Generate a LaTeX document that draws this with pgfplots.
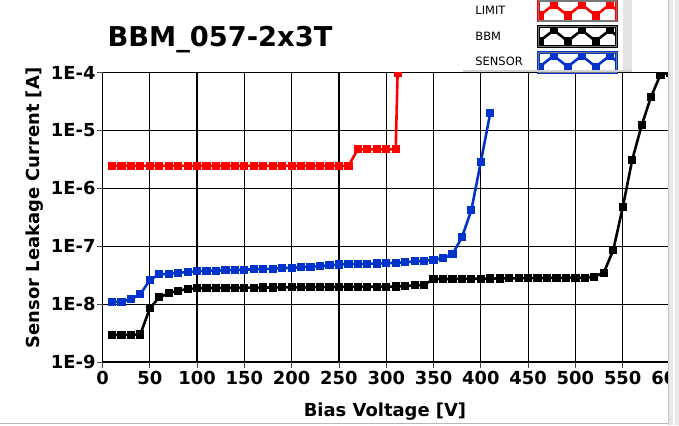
\documentclass[border=0pt]{standalone}
\usepackage{pgfplots}
\pgfplotsset{compat=1.18}
\usepackage{fontspec}
\setmainfont{DejaVu Sans}
\definecolor{limitred}{RGB}{255,0,0}
\definecolor{sensorblue}{RGB}{0,51,204}
\definecolor{framegray}{RGB}{120,120,120}
\begin{document}
\begin{tikzpicture}[x=1bp,y=1bp]
\useasboundingbox (0,0) rectangle (679,425);
\fill[white] (0,0) rectangle (679,425);
\begin{axis}[
  at={(102.5bp,63bp)}, anchor=south west, scale only axis,
  width=567.5bp, height=289.3bp,
  xmin=0, xmax=600, ymin=1e-9, ymax=1e-4, ymode=log,
  xtick={0,50,100,150,200,250,300,350,400,450,500,550,600},
  xticklabels={0,50,100,150,200,250,300,350,400,450,500,550,600},
  ytick={1e-9,1e-8,1e-7,1e-6,1e-5,1e-4},
  yticklabels={1E-9,1E-8,1E-7,1E-6,1E-5,1E-4},
  yminorticks=false, xminorticks=false,
  grid=major, major grid style={black, line width=1.2bp},
  axis line style={draw=none},
  tick align=outside, major tick length=5.5bp, tick pos=left,
  tick style={black!70, line width=0.8bp},
  ticklabel style={font=\fontsize{18}{21}\selectfont\bfseries},
  yticklabel style={xshift=2bp},
  clip marker paths=true,
  every axis plot/.append style={line width=2.6bp, mark=square*, mark size=2.8bp, mark options={solid}},
  legend plot pos=right,
  legend cell align=left,
  legend style={at={(1,1)}, anchor=south east, xshift=-52bp, yshift=-0.8bp,
    draw=none, fill=none, inner sep=0pt, outer sep=0pt, row sep=3bp,
    nodes={font=\fontsize{11.5}{13}\selectfont, inner sep=0pt, text width=62bp, align=left}},
  legend image code/.code={
      \fill[white] (0bp,-10bp) rectangle (78bp,10bp);
      \begin{scope}
        \clip (0bp,-10bp) rectangle (78bp,10bp);
        \draw[mark indices={1,2,3,4,5,6}] plot coordinates {(1bp,-4.5bp) (15bp,6.5bp) (29bp,-4.5bp) (43bp,6.5bp) (57bp,-4.5bp) (71bp,6.5bp) (85bp,-4.5bp)};
      \end{scope}
      \draw[framegray, line width=1.2bp, solid] (0bp,-10bp) rectangle (78bp,10bp);
  },
]
\addplot[color=limitred] table {
x y
10 2.45e-6
20 2.45e-6
30 2.45e-6
40 2.45e-6
50 2.45e-6
60 2.45e-6
70 2.45e-6
80 2.45e-6
90 2.45e-6
100 2.45e-6
110 2.45e-6
120 2.45e-6
130 2.45e-6
140 2.45e-6
150 2.45e-6
160 2.45e-6
170 2.45e-6
180 2.45e-6
190 2.45e-6
200 2.45e-6
210 2.45e-6
220 2.45e-6
230 2.45e-6
240 2.45e-6
250 2.45e-6
260 2.45e-6
270 4.75e-6
280 4.75e-6
290 4.75e-6
300 4.75e-6
310 4.75e-6
312 1.0e-4
};
\addlegendentry{LIMIT}
\addplot[color=black] table {
x y
10 2.93e-9
20 2.93e-9
30 2.95e-9
40 3.0e-9
50 8.47e-9
60 1.31e-8
70 1.54e-8
80 1.71e-8
90 1.83e-8
100 1.88e-8
110 1.9e-8
120 1.9e-8
130 1.92e-8
140 1.92e-8
150 1.93e-8
160 1.93e-8
170 1.94e-8
180 1.94e-8
190 1.95e-8
200 1.95e-8
210 1.96e-8
220 1.96e-8
230 1.97e-8
240 1.98e-8
250 1.98e-8
260 1.99e-8
270 1.99e-8
280 2.0e-8
290 2.0e-8
300 2.0e-8
310 2.02e-8
320 2.05e-8
330 2.12e-8
340 2.15e-8
350 2.72e-8
360 2.72e-8
370 2.73e-8
380 2.73e-8
390 2.74e-8
400 2.75e-8
410 2.78e-8
420 2.78e-8
430 2.8e-8
440 2.8e-8
450 2.82e-8
460 2.82e-8
470 2.84e-8
480 2.85e-8
490 2.85e-8
500 2.86e-8
510 2.87e-8
520 2.98e-8
530 3.5e-8
540 8.6e-8
550 4.72e-7
560 3.1e-6
570 1.23e-5
580 3.85e-5
590 9.3e-5
600 1.0e-4
};
\addlegendentry{BBM}
\addplot[color=sensorblue] table {
x y
10 1.1e-8
20 1.1e-8
30 1.22e-8
40 1.48e-8
50 2.61e-8
60 3.27e-8
70 3.35e-8
80 3.49e-8
90 3.59e-8
100 3.69e-8
110 3.75e-8
120 3.8e-8
130 3.85e-8
140 3.9e-8
150 3.95e-8
160 4.0e-8
170 4.05e-8
180 4.1e-8
190 4.2e-8
200 4.25e-8
210 4.35e-8
220 4.45e-8
230 4.55e-8
240 4.7e-8
250 4.85e-8
260 4.88e-8
270 4.93e-8
280 4.99e-8
290 5.05e-8
300 5.07e-8
310 5.2e-8
320 5.27e-8
330 5.5e-8
340 5.62e-8
350 5.85e-8
360 6.26e-8
370 7.26e-8
380 1.43e-7
390 4.23e-7
400 2.89e-6
410 2.03e-5
};
\addlegendentry{SENSOR}
\end{axis}
% title and axis labels
\node[anchor=base west, font=\fontsize{27.4}{32}\selectfont\bfseries, inner sep=0pt] at (107.3,379) {BBM\_057-2x3T};
\node[anchor=base, font=\fontsize{18}{21}\selectfont\bfseries, inner sep=0pt] at (385,9) {Bias Voltage [V]};
\node[anchor=base, rotate=90, font=\fontsize{18}{21}\selectfont\bfseries, inner sep=0pt] at (39.3,217) {Sensor Leakage Current [A]};
% window decorations
\fill[gray!22] (623,353) rectangle (632,425);
\draw[gray!35, line width=1.5bp] (463,354.2) -- (632,354.2);
\fill[gray!18] (668,0) rectangle (679,425);
\draw[gray!45, line width=1bp] (668.5,0) -- (668.5,425);
\draw[white, line width=2bp] (674,0) -- (674,425);
\draw[gray!55, line width=1bp] (0,2) -- (668,2);
\end{tikzpicture}
\end{document}
